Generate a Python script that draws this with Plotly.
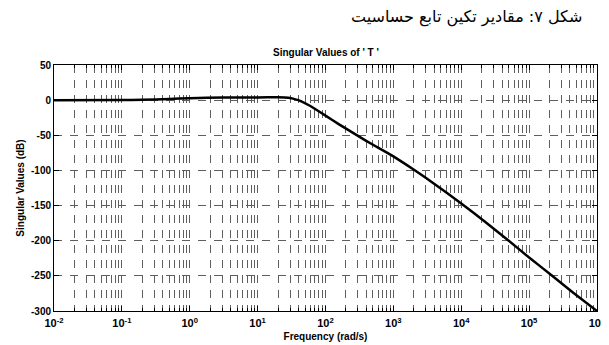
import plotly.graph_objects as go

# Data (frequency in rad/s, singular value in dB)
freq = [1e-2, 1e-1, 10**-0.7, 10**-0.3, 1e0, 10**0.5, 1e1, 10**1.3, 10**1.45,
        10**1.52, 10**1.6, 10**1.77, 1e2, 10**2.2, 10**2.43, 10**2.6,
        10**2.8, 1e3, 10**3.32, 10**3.6, 1e4, 10**4.35, 10**4.7, 1e5,
        10**5.33, 10**5.65, 1e6]
sv_db = [0, 0.1, 0.4, 1.6, 2.8, 3.6, 3.9, 4.0, 3.5,
         2.2, 0, -8, -22, -34.5, -48, -58,
         -69, -80, -100, -119, -147, -173, -200, -224,
         -249, -274, -300]

x_tickvals = [1e-2, 1e-1, 1e0, 1e1, 1e2, 1e3, 1e4, 1e5, 1e6]
x_ticktext = ["10<sup>-2</sup>", "10<sup>-1</sup>", "10<sup>0</sup>", "10<sup>1</sup>",
              "10<sup>2</sup>", "10<sup>3</sup>", "10<sup>4</sup>", "10<sup>5</sup>",
              "10<sup>6</sup>"]
y_ticks = [50, 0, -50, -100, -150, -200, -250, -300]

title_text = "Singular Values of ' T '"
x_title = "Frequency (rad/s)"
y_title = "Singular Values (dB)"
caption = "شکل ۷: مقادیر تکین تابع حساسیت"

# the page body adds an 8px offset; figure is sized to fill the rest of the window
OFF = 8
W, H = 609 - OFF, 345 - OFF
L, R, T, B = 54 - OFF, 12, 65 - OFF, 34
PW, PH = W - L - R, H - T - B

font_b = dict(family="Liberation Sans, Arial", size=10, color="black", weight="bold")
grid_col = "#5e5e5e"


def px_to_paper(px, py):
    # px, py are window pixel coordinates
    fx, fy = px - OFF, py - OFF
    return (fx - L) / PW, (H - B - fy) / PH


fig = go.Figure()
fig.add_trace(go.Scatter(x=freq, y=sv_db, mode="lines",
                         line=dict(color="black", width=2.5, shape="spline", smoothing=0.3),
                         showlegend=False, hoverinfo="skip"))

tx, ty = px_to_paper(325.5, 53)
cx, cy = px_to_paper(584, 17)

fig.update_layout(
    width=W, height=H,
    margin=dict(l=L, r=R, t=T, b=B),
    paper_bgcolor="white", plot_bgcolor="white",
    font=font_b,
    annotations=[
        dict(text=title_text, xref="paper", yref="paper", x=tx, y=ty,
             xanchor="center", yanchor="middle", showarrow=False, font=font_b),
        dict(text=caption, xref="paper", yref="paper", x=cx, y=cy,
             xanchor="right", yanchor="middle", showarrow=False,
             font=dict(family="DejaVu Sans", size=16, color="black", weight="normal")),
    ],
)

fig.update_xaxes(
    type="log", range=[-2, 6], tickvals=x_tickvals, ticktext=x_ticktext,
    showline=True, linecolor="black", linewidth=1, mirror="ticks",
    ticks="inside", ticklen=5, tickcolor="black", ticklabelstandoff=2,
    ticklabeloverflow="allow",
    showgrid=True, gridcolor=grid_col, gridwidth=1, griddash="8px,7px",
    minor=dict(dtick="D1", ticks="inside", ticklen=3, tickcolor="black",
               showgrid=True, gridcolor=grid_col, gridwidth=1, griddash="8px,7px"),
    tickfont=dict(family="Liberation Sans, Arial", size=11, color="black", weight="bold"),
    title=dict(text=x_title, standoff=4, font=font_b),
    zeroline=False, automargin=False,
)
fig.update_yaxes(
    range=[-300, 50], tickvals=y_ticks, ticktext=[str(v) for v in y_ticks],
    showline=True, linecolor="black", linewidth=1, mirror="ticks",
    ticks="inside", ticklen=5, tickcolor="black",
    showgrid=True, gridcolor=grid_col, gridwidth=1, griddash="8px,8px",
    tickfont=dict(family="Liberation Sans, Arial", size=10, color="black", weight="bold"),
    title=dict(text=y_title, standoff=4, font=font_b),
    zeroline=False, automargin=False,
)

fig.write_html("out.html")
